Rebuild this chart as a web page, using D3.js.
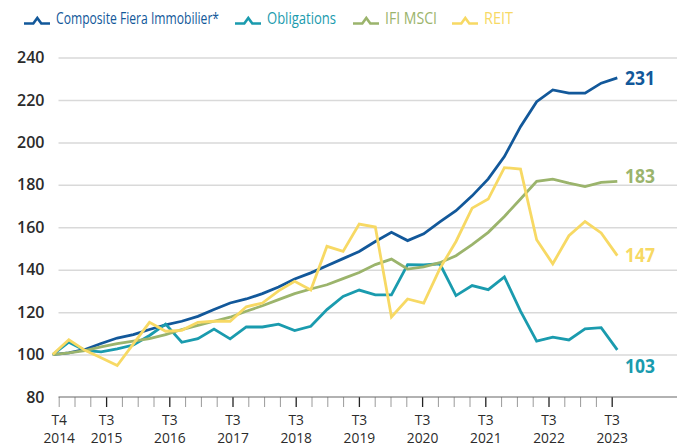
<!DOCTYPE html>
<html>
<head>
<meta charset="utf-8">
<script src="https://cdn.jsdelivr.net/npm/d3@7"></script>
<style>
  body { margin: 0; background: #fff; }
  svg { display: block; font-family: "Open Sans", sans-serif; }
</style>
</head>
<body>
<div id="container"></div>
<script>
// colours
let blue = "#12589a";
let teal = "#1a9bae";
let green = "#9bb46c";
let yellow = "#f7d964";

// quarters, T4 2014 -> T3 2023
let quarters = ["T4 2014",
  "T1 2015", "T2 2015", "T3 2015", "T4 2015",
  "T1 2016", "T2 2016", "T3 2016", "T4 2016",
  "T1 2017", "T2 2017", "T3 2017", "T4 2017",
  "T1 2018", "T2 2018", "T3 2018", "T4 2018",
  "T1 2019", "T2 2019", "T3 2019", "T4 2019",
  "T1 2020", "T2 2020", "T3 2020", "T4 2020",
  "T1 2021", "T2 2021", "T3 2021", "T4 2021",
  "T1 2022", "T2 2022", "T3 2022", "T4 2022",
  "T1 2023", "T2 2023", "T3 2023"];

let composite = [100, 100.8, 102.4, 105.2, 107.8, 109.4, 111.8, 114, 115.7, 118, 121.2, 124.3,
  126.2, 128.7, 131.8, 135.6, 138.5, 141.9, 145.2, 148.6, 153.3, 157.6, 153.7, 156.9,
  162.5, 167.8, 174.8, 182.8, 193.3, 207.4, 219.2, 224.7, 223.2, 223.2, 227.9, 230.4];

let obligations = [100, 105.8, 102, 101.3, 102.7, 104.5, 109, 114.4, 105.8, 107.5, 112, 107.4,
  113, 113, 114.3, 111.3, 113.3, 121.2, 127.4, 130.4, 128.1, 128.1, 142.4, 142.2,
  142.8, 127.8, 132.5, 130.6, 136.6, 120.5, 106.3, 108.2, 106.9, 112.1, 112.7, 102.2];

let ifiMsci = [100, 100.8, 101.9, 103.6, 105.2, 106.3, 107.5, 109.4, 111.8, 113.8, 115.7, 117.6,
  120.4, 123, 125.9, 128.7, 130.9, 132.9, 135.8, 138.7, 142.4, 145, 140.3, 141.3,
  143.3, 146.6, 151.8, 157.6, 165.1, 173.3, 181.6, 182.7, 180.8, 179.2, 181.1, 181.6];

let reit = [100, 107, 102, 98.5, 94.8, 105, 115.2, 111, 111.4, 115.2, 115.7, 115.7,
  122.5, 124.3, 130, 134.5, 130.4, 151, 148.6, 161.5, 160.1, 117.7, 126.2, 124.3,
  140.5, 153.3, 169, 173.3, 188.1, 187.4, 154.1, 142.8, 156, 162.7, 157.3, 146.6];

let seriesNames = ["Composite Fiera Immobilier*", "Obligations", "IFI MSCI", "REIT"];
let endLabels = ["231", "103", "183", "147"];
let yTicks = [80, 100, 120, 140, 160, 180, 200, 220, 240];

let series = [
  { name: seriesNames[0], values: composite, color: blue, end: endLabels[0], dy: 7.5 },
  { name: seriesNames[1], values: obligations, color: teal, end: endLabels[1], dy: 23 },
  { name: seriesNames[2], values: ifiMsci, color: green, end: endLabels[2], dy: 1.5 },
  { name: seriesNames[3], values: reit, color: yellow, end: endLabels[3], dy: 6 }
];

let width = 683;
let height = 447;
let plotLeft = 58.5;
let plotRight = 677;

let viz = d3.select("#container")
  .append("svg")
    .attr("width", width)
    .attr("height", height)
;

// scales
let x = d3.scaleLinear().domain([0, quarters.length - 1]).range([52.7, 617.3]);
let xTick = d3.scaleLinear().domain([0, quarters.length - 1]).range([58.7, 611.7]);
let y = d3.scaleLinear().domain([80, 240]).range([397, 57.5]);

// gridlines + y labels
let yAxis = viz.append("g")
  .attr("transform", "translate(" + plotLeft + ",0)")
  .call(d3.axisLeft(y).tickValues(yTicks).tickSize(-(plotRight - plotLeft)).tickPadding(14));
yAxis.select(".domain").remove();
yAxis.selectAll(".tick line")
  .attr("stroke", d => d == 80 ? "none" : "#d9d9d9")
  .attr("stroke-width", 1.5);
yAxis.selectAll(".tick text")
  .attr("font-size", 16)
  .attr("font-weight", 600)
  .attr("fill", "#2b2b2b")
  .attr("font-family", "Open Sans, sans-serif");

// x axis
let isMajor = i => i == 0 || quarters[i].startsWith("T3");
let xAxis = viz.append("g")
  .attr("transform", "translate(0," + y(80) + ")")
  .call(d3.axisBottom(xTick).tickValues(d3.range(quarters.length)).tickSize(10));
xAxis.select(".domain").remove();
xAxis.selectAll(".tick line")
  .attr("stroke", d => (isMajor(d) && d != 0) ? "#222" : "#9a9a9a")
  .attr("stroke-width", d => (isMajor(d) && d != 0) ? 1.3 : 1);
xAxis.selectAll(".tick text").remove();
// two-line quarter labels, one text per line
xAxis.selectAll(".tick").filter(d => isMajor(d)).each(function(d) {
  let parts = quarters[d].split(" ");
  let g = d3.select(this);
  g.append("text").text(parts[0]).attr("y", 27.5);
  g.append("text").text(parts[1]).attr("y", 46);
  g.selectAll("text")
    .attr("fill", "#2b2b2b")
    .attr("font-size", 13.8)
    .attr("font-family", "Open Sans, sans-serif");
});
viz.append("line")
  .attr("x1", plotLeft)
  .attr("x2", plotRight)
  .attr("y1", y(80))
  .attr("y2", y(80))
  .attr("stroke", "#666")
  .attr("stroke-width", 1.2)
;

// lines
let line = d3.line()
  .x((d, i) => x(i))
  .y(d => y(d));

viz.selectAll(".series")
  .data(series)
  .enter()
  .append("path")
    .attr("class", "series")
    .attr("d", d => line(d.values))
    .attr("fill", "none")
    .attr("stroke", d => d.color)
    .attr("stroke-width", 2.8)
    .attr("stroke-linejoin", "miter")
;

// end labels
viz.selectAll(".endlabel")
  .data(series)
  .enter()
  .append("text")
    .attr("class", "endlabel")
    .text(d => d.end)
    .attr("x", 625)
    .attr("y", d => y(d.values[d.values.length - 1]) + d.dy)
    .attr("fill", d => d.color)
    .attr("font-size", 19)
    .attr("font-weight", 700)
    .attr("textLength", 30)
    .attr("lengthAdjust", "spacingAndGlyphs")
;

// legend
let legendX = [24, 235, 353, 452];
let legendW = [163, 69, 52, 29];
let legend = viz.selectAll(".legend")
  .data(series)
  .enter()
  .append("g")
    .attr("class", "legend")
    .attr("transform", (d, i) => "translate(" + legendX[i] + ",24)")
;
legend.append("path")
  .attr("d", "M0,-0.5H9.3L13.3,-6L17.3,-0.5H26")
  .attr("fill", "none")
  .attr("stroke", d => d.color)
  .attr("stroke-width", 2.6)
;
legend.append("text")
  .text(d => d.name)
  .attr("x", 32)
  .attr("y", 0)
  .attr("fill", d => d.color)
  .attr("font-size", 16)
  .attr("textLength", (d, i) => legendW[i])
  .attr("lengthAdjust", "spacingAndGlyphs")
;
</script>
</body>
</html>
